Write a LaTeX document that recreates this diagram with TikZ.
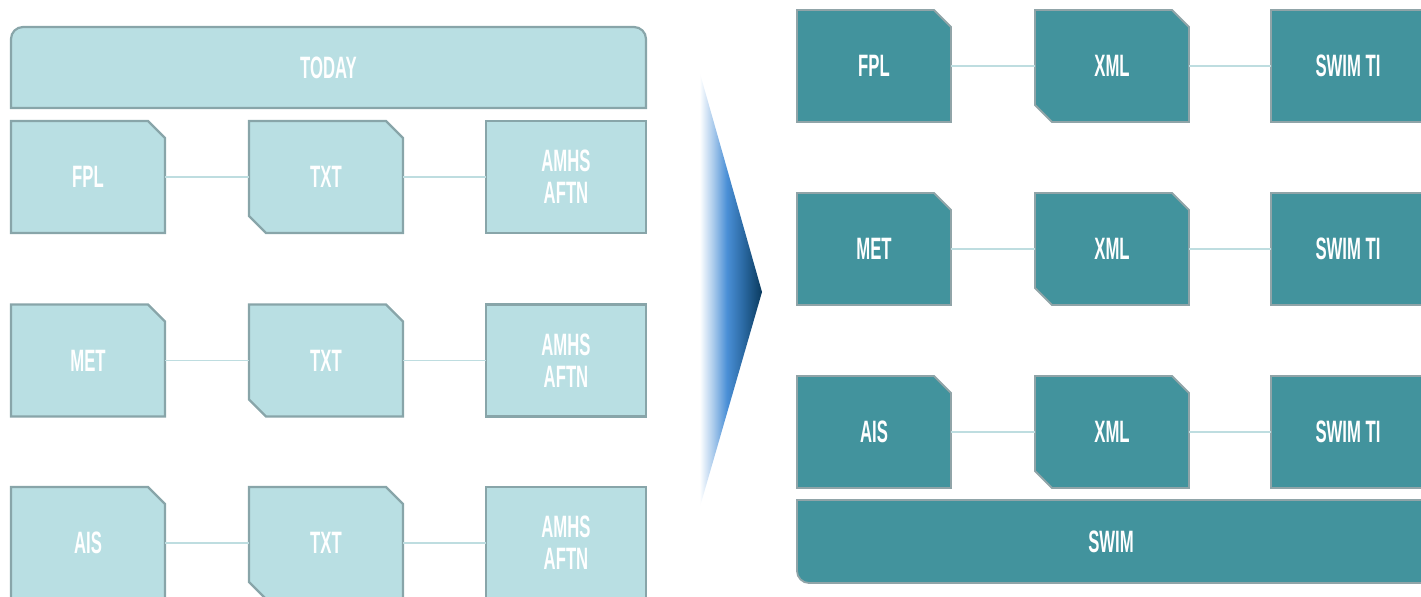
\documentclass[tikz,border=0pt]{standalone}
\usepackage{fontspec}
\setmainfont{Liberation Sans}
\usetikzlibrary{backgrounds}

\definecolor{lfill}{HTML}{B9DFE3}
\definecolor{lline}{HTML}{88A5A9}
\definecolor{dfill}{HTML}{42939D}
\definecolor{dline}{HTML}{90A4A8}
\definecolor{wire}{HTML}{BEDDE0}
\definecolor{chevB}{HTML}{4A8FD6}
\definecolor{chevD}{HTML}{2C6BA5}
\definecolor{chevC}{HTML}{0A3A5E}

% narrow display lettering
\newcommand\cond[1]{\scalebox{0.54}[1]{#1}}
\newcommand\cutsz{4.25mm}

\pgfdeclarehorizontalshading{chev}{100bp}{color(0bp)=(white); color(27bp)=(white);
  color(37bp)=(chevB!45!white); color(48bp)=(chevB); color(60bp)=(chevD);
  color(75bp)=(chevC); color(100bp)=(chevC)}

% box outlines, drawn behind the node text
\newcommand\boxTR[2]{\begin{pgfonlayer}{background}
  \filldraw[#2] (#1.north west) -- ([xshift=-\cutsz]#1.north east) -- ([yshift=-\cutsz]#1.north east)
    -- (#1.south east) -- (#1.south west) -- cycle;\end{pgfonlayer}}
\newcommand\boxTRBL[2]{\begin{pgfonlayer}{background}
  \filldraw[#2] (#1.north west) -- ([xshift=-\cutsz]#1.north east) -- ([yshift=-\cutsz]#1.north east)
    -- (#1.south east) -- ([xshift=\cutsz]#1.south west) -- ([yshift=\cutsz]#1.south west) -- cycle;\end{pgfonlayer}}
\newcommand\boxR[2]{\begin{pgfonlayer}{background}
  \filldraw[#2] (#1.north west) rectangle (#1.south east);\end{pgfonlayer}}

\tikzset{
  cell/.style={inner sep=0pt, outer sep=0pt, minimum width=38.5mm, minimum height=28mm,
    text=white, align=center, font=\fontsize{22}{22.7}\selectfont\bfseries},
  widecell/.style={cell, minimum width=40mm},
  light/.style={fill=lfill, draw=lline, line width=0.55mm},
  dark/.style={fill=dfill, draw=dline, line width=0.45mm},
  link/.style={draw=wire, line width=0.35mm},
}

\begin{document}
\begin{tikzpicture}[x=0.25mm, y=-0.25mm]
\useasboundingbox (0,0) rectangle (1421,597);

% ---------- current situation ----------
\node[cell, minimum width=158.75mm, minimum height=20.25mm] (today) at (328.5,67.5) {\cond{TODAY}};
\begin{pgfonlayer}{background}
\filldraw[light] (today.south west) [rounded corners=3mm] -- (today.north west) -- (today.north east)
  [sharp corners] -- (today.south east) -- cycle;
\end{pgfonlayer}

\foreach \r/\y/\src in {1/177/FPL, 2/360.5/MET, 3/543/AIS}{
  \node[cell] (ls\r) at (88,\y) {\cond{\src}};
  \node[cell] (lf\r) at (326,\y) {\cond{TXT}};
  \node[widecell] (lt\r) at (566,\y) {\cond{AMHS}\\\cond{AFTN}};
  \boxTR{ls\r}{light}
  \boxTRBL{lf\r}{light}
  \boxR{lt\r}{light}
  \draw[link] (ls\r) -- (lf\r);
  \draw[link] (lf\r) -- (lt\r);
}

% ---------- transition chevron ----------
\coordinate (chtop) at (697,63);
\coordinate (chtip) at (762,292);
\coordinate (chbot) at (697,517);
\shade[shading=chev] (chtop) -- (chtip) -- (chbot) -- cycle;

% ---------- target situation ----------
\foreach \r/\y/\src in {1/66/FPL, 2/249/MET, 3/432/AIS}{
  \node[cell] (rs\r) at (874,\y) {\cond{\src}};
  \node[cell] (rf\r) at (1112,\y) {\cond{XML}};
  \node[cell] (rt\r) at (1348,\y) {\cond{SWIM TI}};
  \boxTR{rs\r}{dark}
  \boxTRBL{rf\r}{dark}
  \boxR{rt\r}{dark}
  \draw[link] (rs\r) -- (rf\r);
  \draw[link] (rf\r) -- (rt\r);
}

\node[cell, minimum width=157mm, minimum height=20.75mm] (swim) at (1111,541.5) {\cond{SWIM}};
\begin{pgfonlayer}{background}
\filldraw[dark] (swim.north west) -- (swim.north east) -- (swim.south east)
  [rounded corners=3mm] -- (swim.south west) [sharp corners] -- cycle;
\end{pgfonlayer}
\end{tikzpicture}
\end{document}
